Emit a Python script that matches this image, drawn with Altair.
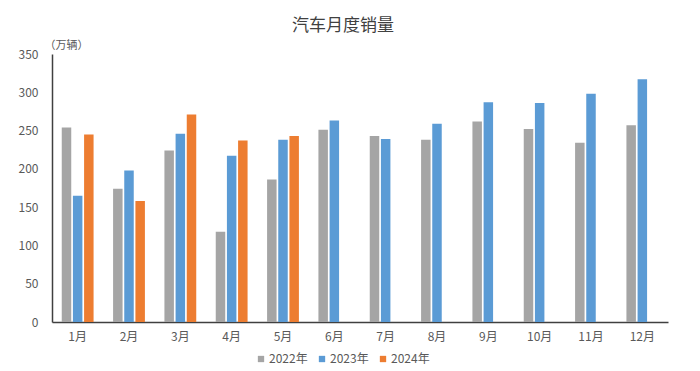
import altair as alt
import pandas as pd

months = ["1月", "2月", "3月", "4月", "5月", "6月", "7月", "8月", "9月", "10月", "11月", "12月"]
years = ["2022年", "2023年", "2024年"]
s2022 = [254, 174, 224, 118, 186, 251, 243, 238, 262, 252, 234, 257]
s2023 = [165, 198, 246, 217, 238, 263, 239, 259, 287, 286, 298, 317]
s2024 = [245, 158, 271, 237, 243]
colors = ["#A5A5A5", "#5B9BD5", "#ED7D31"]

rows = []
for series, yr in zip([s2022, s2023, s2024], years):
    for m, v in zip(months, series):
        rows.append({"month": m, "year": yr, "value": v})
df = pd.DataFrame(rows)

FONT = "Noto Sans CJK SC"

chart = alt.Chart(df).mark_bar().encode(
    x=alt.X("month:N", sort=months,
            scale=alt.Scale(paddingInner=0.38, paddingOuter=0.19),
            axis=alt.Axis(title=None, labelAngle=0, ticks=False, labelPadding=9,
                          labelFontSize=12, labelColor="#595959", labelFont=FONT,
                          domainColor="#404040", domainWidth=1.5)),
    xOffset=alt.XOffset("year:N", sort=years, scale=alt.Scale(domain=years, paddingInner=0.15)),
    y=alt.Y("value:Q", scale=alt.Scale(domain=[0, 350]),
            axis=alt.Axis(values=[0, 50, 100, 150, 200, 250, 300, 350], grid=False, ticks=False,
                          labelPadding=14, labelFontSize=12, labelColor="#595959", labelFont=FONT,
                          domainColor="#404040", domainWidth=1.5,
                          title="（万辆）", titleAngle=0, titleAlign="left", titleBaseline="middle",
                          titleX=-8, titleY=-9, titleFontSize=11, titleFontWeight="normal",
                          titleColor="#595959", titleFont=FONT)),
    color=alt.Color("year:N", sort=years,
                    scale=alt.Scale(domain=years, range=colors),
                    legend=alt.Legend(title=None, orient="none", direction="horizontal",
                                      legendX=203, legendY=299, symbolType="square",
                                      symbolSize=40, symbolStrokeWidth=0, labelFontSize=12,
                                      labelColor="#595959", labelFont=FONT, columnPadding=8,
                                      labelOffset=2)),
).properties(
    width=616, height=268,
    title=alt.Title("汽车月度销量", fontSize=17, fontWeight="normal", color="#404040",
                    font=FONT, anchor="middle", dx=-17, offset=4),
    autosize=alt.AutoSizeParams(type="none"),
    padding={"left": 44, "top": 46, "right": 24, "bottom": 48},
).configure_view(stroke=None)

chart.save("out.html", embed_options={"renderer": "svg", "actions": False})
